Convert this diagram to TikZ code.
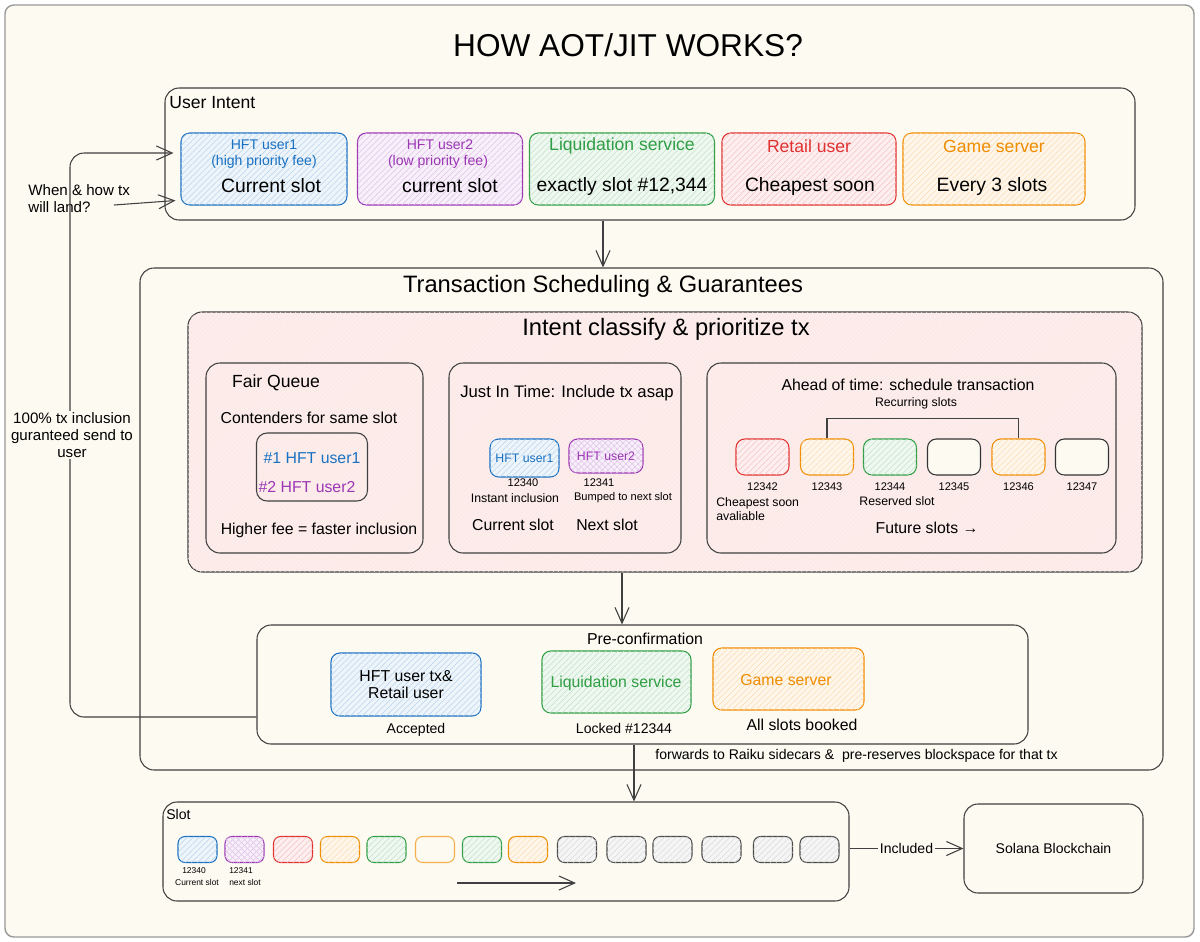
\documentclass[tikz,border=0pt]{standalone}
\usepackage{fontspec}
\setmainfont{Liberation Sans}
\usetikzlibrary{arrows.meta,calc,positioning,patterns.meta}
\definecolor{paper}{HTML}{FCFAF1}
\definecolor{xblue}{HTML}{1971C2}
\definecolor{xpurple}{HTML}{9C36B5}
\definecolor{xgreen}{HTML}{2F9E44}
\definecolor{xred}{HTML}{E03131}
\definecolor{xorange}{HTML}{F08C00}
\definecolor{xgray}{HTML}{5C5C5C}
\definecolor{blush}{HTML}{FCECEA}
\tikzset{
  sz/.style 2 args = {minimum width=#1*0.02cm, minimum height=#2*0.02cm},
  panel/.style = {draw=black!75, line width=0.6pt, rounded corners=8pt, inner sep=0pt},
  tag/.style   = {draw=#1, line width=0.6pt, rounded corners=5pt, inner sep=0pt, fill=#1!8,
                  postaction={pattern={Lines[angle=45,distance=2.4pt,line width=0.3pt]},
                  pattern color=#1!30}},
  xtag/.style  = {tag=#1, postaction={pattern={Lines[angle=-45,distance=2.4pt,line width=0.3pt]},
                  pattern color=#1!30}},
  bare/.style  = {draw=#1, line width=0.6pt, rounded corners=5pt, inner sep=0pt, fill=paper},
  gtag/.style  = {draw=black!70, line width=0.6pt, rounded corners=5pt, inner sep=0pt, fill=black!4,
                  postaction={pattern={Lines[angle=45,distance=2.4pt,line width=0.3pt]},
                  pattern color=black!14}},
  bs/.style = {tag=xblue}, ps/.style = {xtag=xpurple}, rs/.style = {tag=xred},
  os/.style = {tag=xorange}, gs/.style = {tag=xgreen}, gg/.style = {gtag},
  ks/.style = {bare=black!80}, oo/.style = {bare=xorange!70},
  wire/.style  = {draw=black!75, line width=0.6pt},
  flow/.style  = {wire, -{Straight Barb[length=9pt,width=8pt]}},
  ttl/.style   = {inner sep=0pt, font=\fontsize{18}{22}\selectfont},
  hdr/.style   = {inner sep=0pt, font=\fontsize{13.5}{16}\selectfont},
  big/.style   = {inner sep=0pt, font=\fontsize{11}{13}\selectfont},
  body/.style  = {inner sep=0pt, font=\fontsize{10}{12}\selectfont},
  note/.style  = {inner sep=0pt, font=\fontsize{9}{9.6}\selectfont},
  side/.style  = {inner sep=0pt, font=\fontsize{8.6}{9.7}\selectfont},
  sub/.style   = {inner sep=0pt, font=\fontsize{8}{10}\selectfont},
  tiny/.style  = {inner sep=0pt, font=\fontsize{7}{7.6}\selectfont},
  mini/.style  = {inner sep=0pt, font=\fontsize{6.3}{7.5}\selectfont},
  micro/.style = {inner sep=0pt, font=\fontsize{4.8}{6}\selectfont},
}

\begin{document}
\begin{tikzpicture}[x=0.02cm,y=-0.02cm]
  \useasboundingbox (0,0) rectangle (1200,941);
  \fill[white] (0,0) rectangle (1200,941);
  \node[sz={1189}{932}, draw=black!40, line width=0.8pt, rounded corners=5pt, fill=paper] (page) at (599.5,471) {};
  \node[ttl] (heading) at (628,45) {HOW AOT/JIT WORKS?};

  % user intent
  \node[panel, sz={970}{132}] (intent) at (650,154) {};
  \node[body, anchor=west] (intentlbl) at (169,103) {User Intent};
  \node[tag=xblue,   sz={166}{72}] (u1)   at (264,169) {};
  \node[tag=xpurple, sz={165}{72}] (u2)   at (440,169) {};
  \node[tag=xgreen,  sz={185}{72}] (liq)  at (622,169) {};
  \node[tag=xred,    sz={174}{72}] (ret)  at (809,169) {};
  \node[tag=xorange, sz={182}{72}] (game) at (994,169) {};
  \node[sub, xblue]    (u1a) at (264,145) {HFT user1};
  \node[sub, xblue]    (u1b) at (264,162) {(high priority fee)};
  \node[big]           (u1c) at (271,186) {Current slot};
  \node[sub, xpurple]  (u2a) at (440,145) {HFT user2};
  \node[sub, xpurple]  (u2b) at (438,162) {(low priority fee)};
  \node[big]           (u2c) at (450,186) {current slot};
  \node[body, xgreen]  (liqa) at (622,146) {Liquidation service};
  \node[big]           (liqb) at (622,186) {exactly slot \#12,344};
  \node[body, xred]    (reta) at (809,146) {Retail user};
  \node[big]           (retb) at (810,186) {Cheapest soon};
  \node[body, xorange] (gamea) at (994,146) {Game server};
  \node[big]           (gameb) at (992,186) {Every 3 slots};

  % asking side
  \node[side, anchor=west, align=left] (ask) at (28,199) {When \& how tx\\will land?};
  \coordinate (asktail) at (114,205);
  \draw[flow] (asktail) -- ($(u1.south west)+(-5,-5)$);

  % scheduling
  \node[panel, sz={1023}{502}] (tsg) at (651.5,519) {};
  \node[hdr] (tsglbl) at (603,286) {Transaction Scheduling \& Guarantees};
  \draw[flow] (intent.south -| tsglbl) -- (tsg.north -| tsglbl);
  \node[panel, sz={954}{260}, fill=blush,
        postaction={pattern={Lines[angle=45,distance=2pt,line width=0.2pt]}, pattern color=xred!12}] (cls) at (665,442) {};
  \node[hdr] (clslbl) at (666,329) {Intent classify \& prioritize tx};

  % fair queue
  \node[panel, sz={217}{190}] (fq) at (314.5,458) {};
  \node[body] (fqlbl) at (276,383) {Fair Queue};
  \node[note] (fqa) at (309,418) {Contenders for same slot};
  \node[panel, sz={111}{68}, rounded corners=6pt] (rank) at (312,467) {};
  \node[note, xblue]   (rk1) at (312,458) {\#1 HFT user1};
  \node[note, xpurple] (rk2) at (307,487) {\#2 HFT user2};
  \node[note] (fqb) at (319,530) {Higher fee = faster inclusion};

  % just in time
  \node[panel, sz={232}{190}] (jit) at (565,458) {};
  \node[inner sep=0pt, font=\fontsize{9.5}{11}\selectfont] (jitlbl) at (567,393) {Just In Time: Include tx asap};
  \node[tag=xblue,    sz={69}{38}] (j1) at (524.5,458) {};
  \node[xtag=xpurple, sz={74}{34}] (j2) at (606,456) {};
  \node[tiny, xblue]   (j1t) at (j1) {HFT user1};
  \node[tiny, xpurple] (j2t) at (j2) {HFT user2};
  \node[mini] (j1n) at (523,483) {12340};
  \node[mini] (j2n) at (599,483) {12341};
  \node[tiny] (j1s) at (515,498) {Instant inclusion};
  \node[mini] (j2s) at (623,498) {Bumped to next slot};
  \node[note] (j1c) at (513,525) {Current slot};
  \node[note] (j2c) at (607,525) {Next slot};

  % ahead of time
  \node[panel, sz={409}{190}] (aot) at (911.5,458) {};
  \node[note] (aotlbl) at (908,385) {Ahead of time: schedule transaction};
  \node[tiny] (recur) at (916,403) {Recurring slots};
  \foreach \k/\cx/\n [count=\i] in {rs/762.5/12342, os/827/12343, gs/890/12344,
                                     ks/954/12345, os/1018.5/12346, ks/1082/12347}{
    \node[\k, sz={53}{36}] (a\i) at (\cx,457) {};
    \node[mini] (n\i) at (\cx,487) {\n};
  }
  \draw[wire] (a2.north) -- ++(0,-20) -| (a5.north);
  \node[tiny, anchor=west, align=left] (cheap) at (716,509) {Cheapest soon\\avaliable};
  \node[tiny] (rsv) at (897,501) {Reserved slot};
  \node[note] (fut) at (927,528) {Future slots →};

  % pre-confirmation
  \node[panel, sz={771}{119}] (pre) at (642.5,684.5) {};
  \node[note] (prelbl) at (645,639) {Pre-confirmation};
  \draw[flow] (cls.south -| liq) -- (pre.north -| liq);
  \node[tag=xblue,   sz={150}{63}] (pb1) at (406,684.5) {};
  \node[tag=xgreen,  sz={149}{62}] (pb2) at (616.5,682) {};
  \node[tag=xorange, sz={151}{62}] (pb3) at (788.5,679) {};
  \node[note, align=center] (pb1t) at (406,685) {HFT user tx\&\\Retail user};
  \node[note, xgreen]  (pb2t) at (616,683) {Liquidation service};
  \node[note, xorange] (pb3t) at (786,680) {Game server};
  \node[sub]  (pb1s) at (416,730) {Accepted};
  \node[sub]  (pb2s) at (624,728) {Locked \#12344};
  \node[note] (pb3s) at (802,725) {All slots booked};
  \node[sub, anchor=west] (fwd) at (655,756) {forwards to Raiku sidecars \&\ \ pre-reserves blockspace for that tx};

  % feedback loop
  \coordinate (looptop) at (70,153);
  \coordinate (loopbot) at (70,717);
  \draw[flow, rounded corners=8pt, shorten >=4pt] (pre.west |- loopbot) -- (loopbot) -- (looptop) -- (u1.west |- looptop);
  \node[side, align=center, fill=paper, inner sep=1pt] (guar) at (72,435) {100\% tx inclusion\\guranteed send to\\user};

  % slots
  \node[panel, sz={686}{99}] (slot) at (506,851.5) {};
  \node[sub, anchor=west] (slotlbl) at (166,814) {Slot};
  \coordinate (drop) at (634,771);
  \draw[flow] (pre.south -| drop) -- (slot.north -| drop);
  \foreach \k/\cx [count=\i] in {bs/197.5, ps/244.5, rs/293, os/340, gs/386.5, oo/435, gs/482,
                                 os/528, gg/577, gg/626.5, gg/672.5, gg/721.5, gg/773, gg/819.5}
    \node[\k, sz={39}{26}, rounded corners=4pt] (b\i) at (\cx,849.5) {};
  \node[micro] (b1n) at (194,871) {12340};
  \node[micro] (b2n) at (241,871) {12341};
  \node[micro] (b1s) at (197,882) {Current slot};
  \node[micro] (b2s) at (245,882) {next slot};
  \coordinate (time0) at (457,883);
  \coordinate (time1) at (576,883);
  \draw[flow] (time0) -- (time1);

  % chain
  \node[panel, sz={179}{89}] (sol) at (1053.5,848.5) {};
  \node[sub] (sollbl) at (sol) {Solana Blockchain};
  \draw[flow] (slot.east |- sol.west) -- node[sub, fill=paper, inner sep=1pt] (inc) {Included} (sol.west);
\end{tikzpicture}
\end{document}
